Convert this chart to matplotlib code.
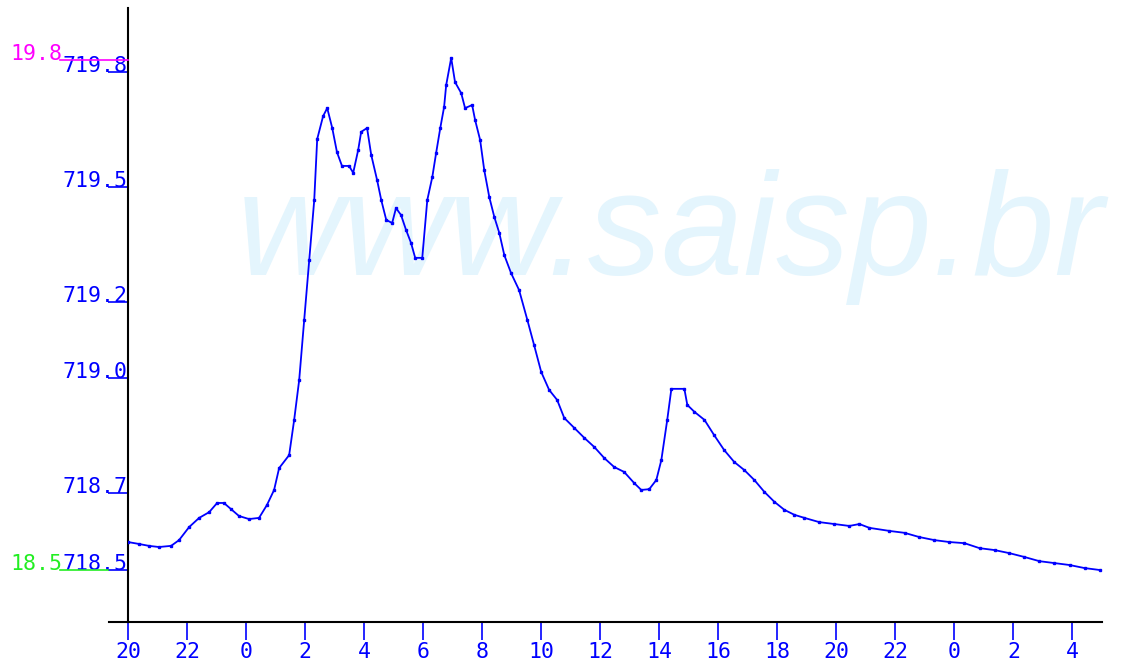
import numpy as np
import matplotlib.pyplot as plt
import matplotlib.transforms as mtransforms

# Reservoir level (m) vs hours since 20h of the first day
hours = [0.00, 0.37, 0.71, 1.05, 1.46, 1.73, 2.07, 2.41, 2.75, 3.02,
         3.25, 3.49, 3.76, 4.10, 4.44, 4.71, 4.95, 5.12, 5.46, 5.63,
         5.80, 5.97, 6.14, 6.31, 6.41, 6.61, 6.75, 6.92, 7.08, 7.25,
         7.49, 7.63, 7.80, 7.90, 8.10, 8.24, 8.44, 8.58, 8.75, 8.95,
         9.08, 9.25, 9.42, 9.59, 9.73, 9.97, 10.14, 10.31, 10.44, 10.58,
         10.71, 10.78, 10.95, 11.08, 11.29, 11.42, 11.66, 11.76, 11.93, 12.07,
         12.24, 12.41, 12.58, 12.75, 12.98, 13.25, 13.53, 13.76, 14.00, 14.27,
         14.54, 14.78, 15.12, 15.46, 15.80, 16.14, 16.47, 16.81, 17.15, 17.39,
         17.66, 17.90, 18.07, 18.27, 18.41, 18.85, 18.95, 19.19, 19.53, 19.86,
         20.20, 20.54, 20.88, 21.22, 21.56, 21.90, 22.24, 22.58, 22.92, 23.42,
         23.93, 24.44, 24.78, 25.12, 25.80, 26.31, 26.81, 27.32, 27.83, 28.34,
         28.85, 29.36, 29.86, 30.37, 30.88, 31.39, 31.90, 32.41, 32.92]
level = [718.573, 718.568, 718.563, 718.560, 718.563, 718.578, 718.612, 718.636, 718.651, 718.675,
         718.675, 718.659, 718.641, 718.633, 718.636, 718.670, 718.709, 718.766, 718.800, 718.892,
         718.996, 719.153, 719.309, 719.466, 719.625, 719.685, 719.706, 719.654, 719.591, 719.555,
         719.555, 719.537, 719.597, 719.644, 719.654, 719.584, 719.518, 719.466, 719.414, 719.406,
         719.445, 719.427, 719.388, 719.354, 719.315, 719.315, 719.466, 719.526, 719.589, 719.654,
         719.709, 719.766, 719.837, 719.774, 719.745, 719.706, 719.714, 719.675, 719.623, 719.544,
         719.474, 719.422, 719.380, 719.322, 719.275, 719.231, 719.153, 719.087, 719.017, 718.970,
         718.944, 718.897, 718.871, 718.845, 718.821, 718.792, 718.769, 718.756, 718.727, 718.709,
         718.711, 718.735, 718.787, 718.892, 718.973, 718.973, 718.931, 718.913, 718.892, 718.852,
         718.813, 718.782, 718.761, 718.735, 718.704, 718.678, 718.657, 718.644, 718.636, 718.625,
         718.620, 718.615, 718.620, 718.610, 718.602, 718.597, 718.586, 718.578, 718.573, 718.570,
         718.557, 718.552, 718.544, 718.534, 718.523, 718.518, 718.513, 718.505, 718.500]

xtick_pos = list(range(0, 33, 2))
xtick_labels = ['20', '22', '0', '2', '4', '6', '8', '10', '12', '14',
                '16', '18', '20', '22', '0', '2', '4']
ytick_vals = [718.5, 718.7, 719.0, 719.2, 719.5, 719.8]
ytick_labels = ['718.5', '718.7', '719.0', '719.2', '719.5', '719.8']

# reference levels on the secondary scale
ref_high = 19.8
ref_low = 18.5

mono = 'DejaVu Sans Mono'
blue = '#0000ff'

fig = plt.figure(figsize=(11.3, 6.64), dpi=100)
ax = fig.add_axes([128/1130, 42/664, 974/1130, 614/664])

ax.plot(hours, level, color=blue, lw=1.3, marker='s', markersize=1.5, zorder=3)

ax.set_xlim(0, 33.0)
ax.set_ylim(718.3642, 719.9674)

for s in ['top', 'right']:
    ax.spines[s].set_visible(False)
for s in ['left', 'bottom']:
    ax.spines[s].set_color('black')
    ax.spines[s].set_linewidth(1.5)

# extend the x axis line past the y axis
ax.plot([-19/974, 0], [0, 0], transform=ax.transAxes, color='black', lw=1.5, clip_on=False)

ax.set_xticks(xtick_pos)
ax.set_xticklabels(xtick_labels, fontfamily=mono, fontsize=15.5, color=blue)
ax.tick_params(axis='x', length=13, width=1.2, color=blue, pad=1.5)

ax.set_yticks(ytick_vals)
ax.set_yticklabels(ytick_labels, fontfamily=mono, fontsize=15.5, color=blue)
ax.tick_params(axis='y', length=14.4, width=1.2, color=blue, pad=-14.4)
for lab in ax.get_yticklabels():
    lab.set_va('baseline')

# watermark
ax.text(109/974, 347/614, 'www.saisp.br', transform=ax.transAxes,
        fontfamily='Liberation Sans', fontstyle='italic', fontsize=106,
        color='#e4f5fd', va='baseline', ha='left', zorder=0, clip_on=False)

# secondary reference scale drawn at left
ax2 = ax.twinx()
ax2.set_ylim(18.3674, 19.9326)
ax2.axis('off')
trans = mtransforms.blended_transform_factory(ax.transAxes, ax2.transData)
ax2.plot([-68/974, 0], [ref_high, ref_high], transform=trans, color='#ff00ff', lw=1.2, clip_on=False)
ax2.plot([-68/974, -20/974], [ref_low, ref_low], transform=trans, color='#22ee22', lw=1.2, clip_on=False)
ax2.text(-118/974, ref_high, '%.1f' % ref_high, transform=trans, color='#ff00ff',
         fontfamily=mono, fontsize=15.5, va='baseline', ha='left')
ax2.text(-118/974, ref_low, '%.1f' % ref_low, transform=trans, color='#22ee22',
         fontfamily=mono, fontsize=15.5, va='baseline', ha='left')

fig.savefig('out.png', dpi=100)
